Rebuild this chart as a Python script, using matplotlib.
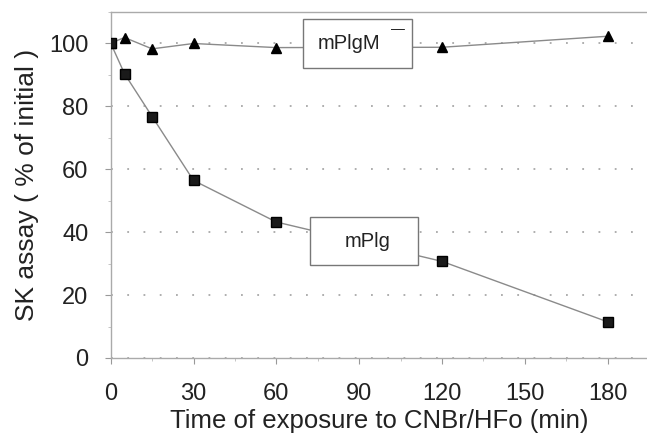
import matplotlib
matplotlib.use("Agg")
import matplotlib.pyplot as plt
from matplotlib.patches import Rectangle
from matplotlib.ticker import MultipleLocator

# data
time_min = [0, 5, 15, 30, 60, 120, 180]
mplg = [100, 90.3, 76.7, 56.4, 43.2, 30.7, 11.5]
mplgm = [100, 101.8, 98.2, 99.9, 98.6, 98.7, 102.2]
xticks = [0, 30, 60, 90, 120, 150, 180]
yticks = [0, 20, 40, 60, 80, 100]

plt.rcParams['font.family'] = ['Liberation Sans', 'DejaVu Sans']

fig = plt.figure(figsize=(6.47, 4.36), dpi=100)
ax = fig.add_axes([110.7 / 647, 1 - 358 / 436, 1 - 110.7 / 647, (358 - 11.7) / 436])

ax.plot(time_min, mplgm, color='#8a8a8a', lw=1, marker='^', ms=7.5,
        mfc='black', mec='black', zorder=3)
ax.plot(time_min, mplg, color='#8a8a8a', lw=1, marker='s', ms=7.5,
        mfc='#1a1a1a', mec='black', zorder=4)

ax.set_xlim(0, 194.3)
ax.set_ylim(0, 110)
ax.set_xticks(xticks)
ax.set_yticks(yticks)
ax.xaxis.set_minor_locator(MultipleLocator(15))
ax.yaxis.set_minor_locator(MultipleLocator(10))

for s in ['top', 'left', 'bottom']:
    ax.spines[s].set_color('#aaaaaa')
    ax.spines[s].set_linewidth(1)
ax.spines['right'].set_visible(False)

ax.tick_params(which='major', length=4, color='#999999', labelsize=17, labelcolor='#222222')
ax.tick_params(which='minor', length=2, color='#bbbbbb')
ax.tick_params(axis='x', which='major', pad=14)
ax.tick_params(axis='y', which='major', pad=12)

ax.grid(axis='y', which='major', color='#a8a8a8', lw=1.3, linestyle=(0, (1, 8)))
ax.set_axisbelow(True)

ax.set_xlabel('Time of exposure to CNBr/HFo (min)', fontsize=18.5, color='#222222', labelpad=3)
ax.set_ylabel('SK assay ( % of initial )', fontsize=19, color='#222222', labelpad=7)

# label boxes
ax.add_patch(Rectangle((69.8, 92.2), 39.3, 15.4, facecolor='white',
                       edgecolor='#777777', lw=1, zorder=5))
ax.text(86.5, 99.8, 'mPlgM', fontsize=14.5, ha='center', va='center', color='#222222', zorder=6)
ax.text(104, 104.6, '\u2014', fontsize=10, ha='center', va='center', color='#222222', zorder=6)

ax.add_patch(Rectangle((72.2, 29.4), 39.1, 15.4, facecolor='white',
                       edgecolor='#777777', lw=1, zorder=5))
ax.text(93, 37, 'mPlg', fontsize=14.5, ha='center', va='center', color='#222222', zorder=6)

fig.savefig('out.png', dpi=100)
